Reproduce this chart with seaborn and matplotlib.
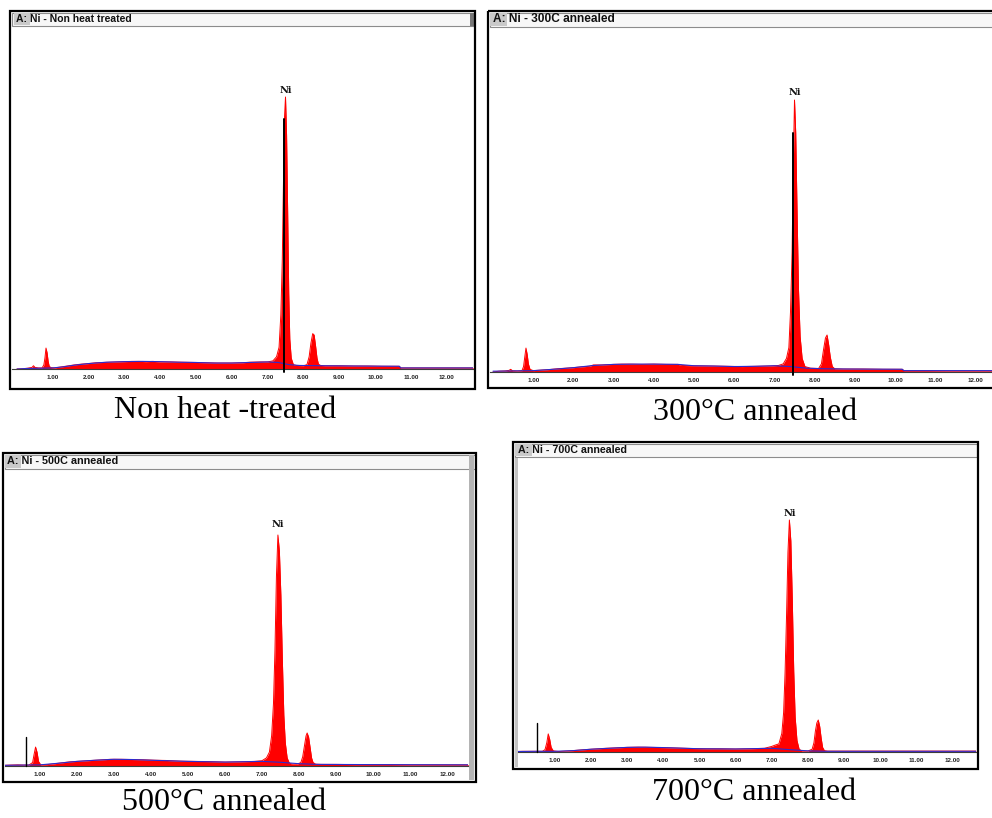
import matplotlib
matplotlib.use("Agg")
import matplotlib.pyplot as plt
import seaborn as sns
import pandas as pd
from matplotlib.patches import Rectangle

sns.set_style("white")
plt.rcParams['font.family'] = ['DejaVu Sans']

# ------------------------------------------------------------------ data
titles = ["A: Ni - Non heat treated", "A: Ni - 300C annealed",
          "A: Ni - 500C annealed", "A: Ni - 700C annealed"]
captions = ["Non heat -treated", "300°C annealed", "500°C annealed", "700°C annealed"]
peak_label = "Ni"
tick_values = [1, 2, 3, 4, 5, 6, 7, 8, 9, 10, 11, 12]
tick_labels = ["1.00", "2.00", "3.00", "4.00", "5.00", "6.00", "7.00", "8.00",
               "9.00", "10.00", "11.00", "12.00"]

# spectra: energy (keV) and relative counts (Ni Ka peak = 100)
e_p1 = [0.00, 0.15, 0.30, 0.42, 0.46, 0.50, 0.60, 0.70, 0.75, 0.78,
        0.81, 0.84, 0.87, 0.90, 0.95, 1.05, 1.20, 1.40, 1.60, 1.80,
        2.00, 2.20, 2.40, 2.60, 2.80, 3.00, 3.20, 3.40, 3.60, 3.80,
        4.00, 4.30, 4.60, 5.00, 5.30, 5.60, 6.00, 6.30, 6.50, 6.80,
        7.00, 7.15, 7.25, 7.32, 7.37, 7.41, 7.44, 7.47, 7.50, 7.53,
        7.56, 7.59, 7.62, 7.66, 7.72, 7.80, 8.00, 8.10, 8.16, 8.21,
        8.26, 8.30, 8.34, 8.38, 8.42, 8.48, 8.60, 9.00, 9.40, 9.80,
        10.20, 10.68, 10.72, 11.20, 11.60, 12.00, 12.40, 12.80]
c_p1 = [0.0, 0.1, 0.3, 0.6, 1.2, 0.6, 0.4, 0.4, 1.5, 4.0,
        7.7, 6.0, 2.8, 1.0, 0.5, 0.4, 0.7, 1.1, 1.5, 1.8,
        2.0, 2.3, 2.4, 2.5, 2.6, 2.7, 2.8, 2.8, 2.7, 2.8,
        2.6, 2.6, 2.5, 2.4, 2.3, 2.2, 2.2, 2.3, 2.5, 2.6,
        2.6, 3.0, 4.5, 8.0, 20.0, 40.0, 66.0, 92.0, 100.0, 86.0,
        58.0, 28.0, 11.0, 4.0, 1.6, 1.3, 1.2, 1.6, 4.5, 9.5,
        13.0, 12.5, 8.5, 4.0, 1.8, 1.3, 1.2, 1.2, 1.1, 1.1,
        1.0, 1.0, 0.4, 0.4, 0.4, 0.4, 0.4, 0.4]
bg_e_p1 = [0.0, 0.3, 0.7, 1.0, 1.3, 1.6, 2.0, 2.5, 3.0, 3.5,
           4.0, 4.5, 5.0, 5.5, 6.0, 6.5, 7.0, 7.3, 7.6, 7.9,
           8.5, 9.5, 10.68, 10.72, 12.8]
bg_c_p1 = [0.0, 0.2, 0.3, 0.4, 0.8, 1.4, 2.0, 2.5, 2.7, 2.8,
           2.7, 2.5, 2.4, 2.2, 2.2, 2.4, 2.6, 2.4, 1.6, 1.3,
           1.2, 1.1, 1.0, 0.4, 0.4]

e_p2 = [0.00, 0.15, 0.30, 0.40, 0.44, 0.48, 0.60, 0.72, 0.76, 0.79,
        0.82, 0.85, 0.88, 0.92, 1.00, 1.20, 1.40, 1.60, 1.80, 2.00,
        2.20, 2.40, 2.50, 2.70, 3.00, 3.20, 3.40, 3.70, 4.00, 4.30,
        4.60, 4.70, 5.00, 5.40, 5.80, 6.20, 6.60, 6.90, 7.10, 7.22,
        7.30, 7.36, 7.40, 7.44, 7.47, 7.50, 7.53, 7.56, 7.60, 7.64,
        7.69, 7.76, 7.90, 8.10, 8.17, 8.22, 8.27, 8.31, 8.35, 8.39,
        8.44, 8.50, 8.70, 9.20, 9.70, 10.18, 10.22, 10.80, 11.40, 12.00,
        12.50]
c_p2 = [0.0, 0.3, 0.4, 0.6, 1.0, 0.5, 0.4, 0.5, 2.0, 5.5,
        8.8, 6.5, 3.0, 1.0, 0.5, 0.7, 0.9, 1.2, 1.4, 1.6,
        1.9, 2.1, 2.6, 2.6, 2.8, 2.9, 2.9, 2.8, 2.9, 2.8,
        2.8, 2.4, 2.3, 2.2, 2.1, 2.0, 2.1, 2.2, 2.4, 3.0,
        5.0, 9.0, 22.0, 44.0, 76.0, 100.0, 88.0, 62.0, 30.0, 13.0,
        5.0, 2.0, 1.4, 1.3, 3.0, 8.0, 12.5, 13.6, 10.0, 5.5,
        2.0, 1.2, 1.1, 1.1, 1.0, 1.0, 0.5, 0.5, 0.4, 0.4,
        0.4]
bg_e_p2 = [0.0, 0.5, 1.0, 1.3, 1.6, 2.0, 2.5, 3.0, 3.5, 4.0,
           4.6, 5.0, 5.5, 6.0, 6.5, 7.0, 7.4, 7.8, 8.2, 8.8,
           10.18, 10.22, 12.5]
bg_c_p2 = [0.3, 0.4, 0.5, 0.8, 1.1, 1.6, 2.4, 2.8, 2.9, 2.9,
           2.8, 2.3, 2.2, 2.0, 2.1, 2.3, 2.0, 1.4, 1.2, 1.1,
           1.0, 0.5, 0.5]

e_p3 = [0.06, 0.20, 0.40, 0.55, 0.70, 0.80, 0.84, 0.88, 0.92, 0.96,
        1.02, 1.20, 1.40, 1.60, 1.80, 2.00, 2.30, 2.60, 2.90, 3.20,
        3.50, 3.80, 4.10, 4.40, 4.80, 5.20, 5.60, 6.00, 6.40, 6.80,
        7.00, 7.12, 7.20, 7.26, 7.31, 7.35, 7.39, 7.43, 7.47, 7.51,
        7.55, 7.59, 7.63, 7.68, 7.74, 7.82, 7.95, 8.05, 8.10, 8.15,
        8.19, 8.22, 8.26, 8.30, 8.34, 8.38, 8.45, 8.60, 9.00, 9.50,
        10.00, 10.50, 11.00, 11.50, 12.00, 12.68]
c_p3 = [0.3, 0.4, 0.5, 0.4, 0.4, 1.5, 5.0, 8.2, 6.0, 2.0,
        0.5, 0.6, 1.0, 1.4, 1.8, 2.0, 2.3, 2.6, 2.9, 2.9,
        2.8, 2.7, 2.5, 2.4, 2.1, 2.0, 1.9, 1.7, 1.8, 2.0,
        2.3, 3.5, 6.0, 13.0, 27.0, 50.0, 82.0, 100.0, 93.0, 74.0,
        46.0, 22.0, 10.0, 3.5, 1.2, 0.8, 0.8, 1.5, 4.0, 9.0,
        13.0, 14.3, 12.5, 8.0, 3.5, 1.5, 0.8, 0.7, 0.7, 0.6,
        0.6, 0.6, 0.5, 0.5, 0.5, 0.5]
bg_e_p3 = [0.06, 0.5, 1.0, 1.5, 2.0, 2.5, 3.0, 3.5, 4.0, 5.0,
           6.0, 7.0, 7.5, 8.0, 8.5, 10.0, 12.68]
bg_c_p3 = [0.3, 0.4, 0.5, 1.2, 2.0, 2.5, 2.9, 2.8, 2.5, 2.0,
           1.7, 2.0, 1.6, 1.0, 0.7, 0.6, 0.5]

e_p4 = [-0.11, 0.10, 0.30, 0.50, 0.65, 0.72, 0.77, 0.81, 0.85, 0.89,
        0.95, 1.10, 1.30, 1.50, 1.80, 2.10, 2.40, 2.70, 3.00, 3.30,
        3.60, 4.00, 4.40, 4.80, 5.20, 5.60, 6.00, 6.40, 6.80, 7.00,
        7.10, 7.20, 7.28, 7.33, 7.37, 7.41, 7.45, 7.49, 7.53, 7.57,
        7.61, 7.65, 7.70, 7.76, 7.84, 8.00, 8.12, 8.17, 8.21, 8.25,
        8.29, 8.33, 8.37, 8.41, 8.46, 8.55, 9.00, 9.60, 10.20, 10.80,
        11.40, 12.00, 12.66]
c_p4 = [0.2, 0.3, 0.3, 0.3, 0.3, 1.0, 4.0, 7.8, 5.5, 2.0,
        0.5, 0.2, 0.4, 0.6, 1.0, 1.3, 1.6, 1.8, 2.0, 2.1,
        2.0, 1.9, 1.7, 1.5, 1.4, 1.4, 1.3, 1.4, 1.6, 2.4,
        3.0, 3.5, 8.0, 17.0, 34.0, 58.0, 86.0, 100.0, 91.0, 66.0,
        35.0, 15.0, 5.0, 1.2, 0.4, 0.4, 1.2, 4.0, 9.0, 12.5,
        13.8, 11.0, 6.0, 2.0, 0.6, 0.4, 0.4, 0.4, 0.4, 0.4,
        0.4, 0.4, 0.4]
bg_e_p4 = [-0.11, 0.5, 1.0, 1.5, 2.0, 2.5, 3.0, 3.5, 4.0, 5.0,
           6.0, 7.0, 7.5, 8.0, 8.5, 10.5, 12.66]
bg_c_p4 = [0.2, 0.3, 0.3, 0.6, 1.2, 1.6, 2.0, 2.1, 1.9, 1.4,
           1.3, 1.6, 1.0, 0.5, 0.3, 0.3, 0.3]

peak_energy = [7.50, 7.50, 7.43, 7.49]
marker_energy = [7.47, 7.455, 0.61, 0.50]
marker_height = [92.0, 88.0, 12.5, 12.5]

spectra_e = [e_p1, e_p2, e_p3, e_p4]
spectra_c = [c_p1, c_p2, c_p3, c_p4]
bg_e = [bg_e_p1, bg_e_p2, bg_e_p3, bg_e_p4]
bg_c = [bg_c_p1, bg_c_p2, bg_c_p3, bg_c_p4]

# ------------------------------------------------------------------ layout (pixels)
W, H = 992, 818
layout = [
    dict(frame=(10, 11, 475, 389), tbar=26, L=12, R=473, base=369, top=27,
         x0=17, ppk=35.8, peak_px=272, tfs=7.5, tx=16, abox=(14, 30),
         cap=(225, 418), ni_off=1.5, mark_lw=1.4),
    dict(frame=(488, 11, 1004, 388), tbar=27, L=490, R=992, base=372, top=28,
         x0=493, ppk=40.2, peak_px=272, tfs=8.6, tx=493, abox=(490, 507),
         cap=(755, 420), ni_off=2.0, mark_lw=1.4),
    dict(frame=(3, 453, 476, 782), tbar=469, L=5, R=468, base=766, top=470,
         x0=3, ppk=37.0, peak_px=231, tfs=7.8, tx=7, abox=(5, 21),
         cap=(224, 810), ni_off=4.0, mark_lw=1.0),
    dict(frame=(513, 442, 978, 769), tbar=457, L=518, R=976, base=752, top=458,
         x0=519, ppk=36.1, peak_px=232, tfs=7.7, tx=518, abox=(515, 532),
         cap=(754, 800), ni_off=1.5, mark_lw=1.0),
]

fig = plt.figure(figsize=(W / 100, H / 100), dpi=100)
bg = fig.add_axes([0, 0, 1, 1])
bg.set_xlim(0, W)
bg.set_ylim(H, 0)
bg.axis("off")

for i, lay in enumerate(layout):
    fl, ft, fr, fb = lay["frame"]
    # title bar
    bg.add_patch(Rectangle((fl + 1.5, ft + 1.5), fr - fl - 3, lay["tbar"] - ft - 1.5,
                           facecolor="#f7f7f7", edgecolor="#8c8c8c", lw=0.8, zorder=1))
    a0, a1 = lay["abox"]
    bg.add_patch(Rectangle((a0, ft + 2), a1 - a0, lay["tbar"] - ft - 3,
                           facecolor="#c9c9c9", edgecolor="none", zorder=2))
    bg.text(lay["tx"], (ft + lay["tbar"]) / 2 + 0.5, titles[i], fontsize=lay["tfs"],
            fontweight="bold", family="Liberation Sans", ha="left", va="center",
            color="#111111", zorder=3)
    # frame
    bg.add_patch(Rectangle((fl, ft), fr - fl, fb - ft, facecolor="none",
                           edgecolor="black", lw=1.6, zorder=4))
    # caption
    cx, cy = lay["cap"]
    bg.text(cx, cy, captions[i], fontsize=23, family="Liberation Serif",
            ha="center", va="baseline", color="black")

# scroll strips
bg.add_patch(Rectangle((469, 455), 5, 325, facecolor="#b4b4b4", edgecolor="none", zorder=3))
bg.add_patch(Rectangle((514.5, 458), 3, 309, facecolor="#c4c4c4", edgecolor="none", zorder=3))
bg.add_patch(Rectangle((470, 13), 3.5, 13, facecolor="#777777", edgecolor="none", zorder=3))

for i, lay in enumerate(layout):
    L, R, base, top = lay["L"], lay["R"], lay["base"], lay["top"]
    ax = fig.add_axes([L / W, 1 - base / H, (R - L) / W, (base - top) / H])
    ax.set_facecolor("none")
    ymax = 100.0 * (base - top) / lay["peak_px"]
    ax.set_xlim((L - lay["x0"]) / lay["ppk"], (R - lay["x0"]) / lay["ppk"])
    ax.set_ylim(0, ymax)

    spec = pd.DataFrame({"energy": spectra_e[i], "counts": spectra_c[i]})
    back = pd.DataFrame({"energy": bg_e[i], "counts": bg_c[i]})
    ax.fill_between(spec["energy"], 0, spec["counts"], color="#ff0000", lw=0, zorder=2)
    sns.lineplot(data=spec, x="energy", y="counts", ax=ax, color="#ff0000", lw=0.7,
                 estimator=None, sort=False, zorder=3)
    sns.lineplot(data=back, x="energy", y="counts", ax=ax, color="#2b2bd0", lw=0.8,
                 estimator=None, sort=False, zorder=4)
    # marker line
    me = marker_energy[i]
    low = -1.2 if i < 2 else 0.0
    ax.plot([me, me], [low, marker_height[i]], color="black", lw=lay["mark_lw"],
            zorder=5, clip_on=False)
    # Ni label
    ax.annotate(peak_label, xy=(peak_energy[i], 100), xytext=(0, lay["ni_off"]),
                textcoords="offset points", ha="center", va="bottom", fontsize=7,
                fontweight="bold", family="DejaVu Serif", color="#111111")

    for s in ["top", "left", "right"]:
        ax.spines[s].set_visible(False)
    ax.spines["bottom"].set_color("#3c3c3c")
    ax.spines["bottom"].set_linewidth(0.8)
    ax.set_xticks(tick_values)
    ax.set_xticklabels(tick_labels)
    ax.set_yticks([])
    ax.tick_params(axis="x", direction="out", length=2.5, width=0.6, color="#3c3c3c",
                   labelsize=4.5, pad=2.0, labelcolor="#222222")
    for lab in ax.get_xticklabels():
        lab.set_family("Liberation Sans")
        lab.set_fontweight("bold")
    ax.set_xlabel("")
    ax.set_ylabel("")

fig.savefig("out.png", dpi=100)
